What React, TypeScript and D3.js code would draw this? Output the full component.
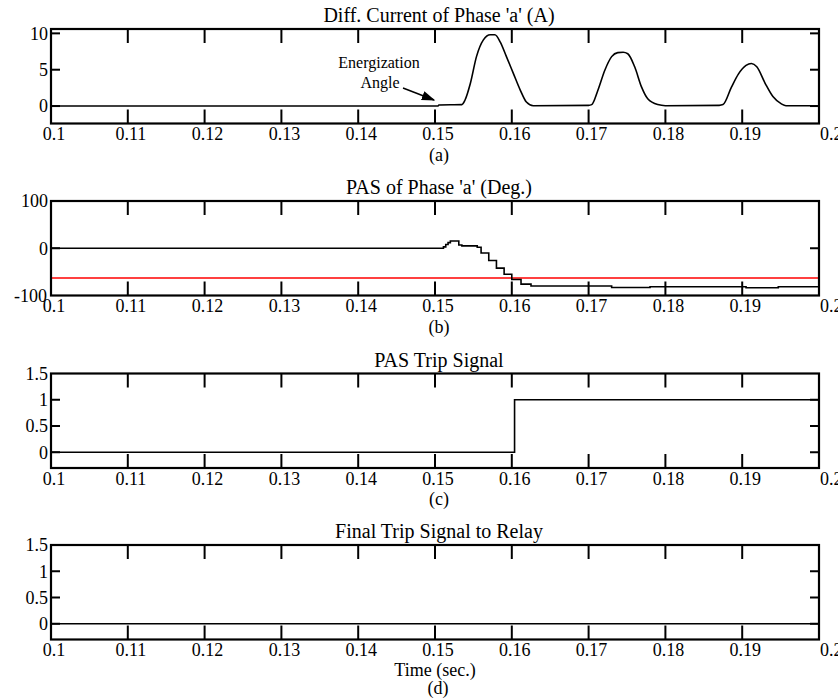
import * as d3 from 'd3';

// time axis
const timeTicks = [0.1, 0.11, 0.12, 0.13, 0.14, 0.15, 0.16, 0.17, 0.18, 0.19, 0.2];
const timeLabels = ['0.1', '0.11', '0.12', '0.13', '0.14', '0.15', '0.16', '0.17', '0.18', '0.19', '0.2'];

// (a) differential current, phase a (A)
const diffT = [0.1, 0.1504, 0.1505, 0.1535, 0.1539, 0.1546, 0.1554, 0.1563, 0.1572, 0.1578, 0.1585, 0.1593, 0.1602, 0.1611, 0.1619, 0.1628,
  0.17, 0.1704, 0.1712, 0.1721, 0.173, 0.1738, 0.1745, 0.1751, 0.176, 0.1769, 0.1777, 0.179, 0.18,
  0.187, 0.1875, 0.1886, 0.1895, 0.1905, 0.1912, 0.1919, 0.193, 0.194, 0.1951, 0.1957, 0.2];
const diffA = [0, 0, 0.15, 0.2, 0.8, 3.1, 6.8, 9.1, 9.8, 9.8, 8.8, 6.8, 4.5, 2.2, 0.55, 0.05,
  0.1, 0.2, 2.15, 4.9, 6.8, 7.35, 7.4, 7.2, 5.4, 2.6, 1.0, 0.2, 0.05,
  0.1, 0.2, 2.6, 4.4, 5.6, 5.85, 5.4, 3.1, 1.3, 0.3, 0.05, 0.05];

// (b) PAS of phase a (deg), stepped
const pasT = [0.1, 0.1511, 0.1514, 0.1517, 0.152, 0.1531, 0.1535, 0.1555, 0.156, 0.157, 0.158, 0.159, 0.16, 0.1612, 0.1625, 0.173, 0.178, 0.1905, 0.1947, 0.2];
const pasDeg = [0, 3, 8, 12, 15.5, 7, 5, 2, -10, -26, -42, -55, -66, -76, -80, -83, -81.5, -83.5, -81.5, -81.5];
const pasThreshold = -63;

// (c) PAS trip signal
const tripT = [0.1, 0.16036, 0.2];
const tripVal = [0, 1, 1];

// (d) final trip signal
const finalT = [0.1, 0.2];
const finalVal = [0, 0];

const FONT = '"Liberation Serif", "Times New Roman", serif';
const left = 51;
const right = 819;
const h = 94.5;

type Panel = {
  key: string;
  title: string;
  top: number;
  domain: [number, number];
  yTicks: number[];
  yLabels: string[];
  t: number[];
  v: number[];
  step: boolean;
  sub: string;
};

const panels: Panel[] = [
  { key: 'a', title: "Diff. Current of Phase 'a' (A)", top: 29, domain: [-2.4, 10.6], yTicks: [0, 5, 10], yLabels: ['0', '5', '10'], t: diffT, v: diffA, step: false, sub: '(a)' },
  { key: 'b', title: "PAS of Phase 'a' (Deg.)", top: 201, domain: [-100, 100], yTicks: [-100, 0, 100], yLabels: ['-100', '0', '100'], t: pasT, v: pasDeg, step: true, sub: '(b)' },
  { key: 'c', title: 'PAS Trip Signal', top: 373.5, domain: [-0.3, 1.5], yTicks: [0, 0.5, 1, 1.5], yLabels: ['0', '0.5', '1', '1.5'], t: tripT, v: tripVal, step: true, sub: '(c)' },
  { key: 'd', title: 'Final Trip Signal to Relay', top: 545, domain: [-0.3, 1.5], yTicks: [0, 0.5, 1, 1.5], yLabels: ['0', '0.5', '1', '1.5'], t: finalT, v: finalVal, step: true, sub: '(d)' },
];

const x = d3.scaleLinear().domain([0.1, 0.2]).range([left, right]);

function PanelView({ p }: { p: Panel }) {
  const bottom = p.top + h;
  const y = d3.scaleLinear().domain(p.domain).range([bottom, p.top]);
  const pts = p.t.map((t, i) => [t, p.v[i]] as [number, number]);
  const line = d3.line<[number, number]>()
    .x(d => x(d[0]))
    .y(d => y(d[1]))
    .curve(p.step ? d3.curveStepAfter : d3.curveMonotoneX);
  const inner = timeTicks.slice(1, -1);
  const yIn = p.yTicks.filter(v => v > p.domain[0] && v < p.domain[1]);
  return (
    <g>
      <text x={(left + right) / 2 + 4} y={p.top - 7} textAnchor="middle" fontSize={20}>{p.title}</text>
      {p.key === 'b' && (
        <line x1={left} x2={right} y1={y(pasThreshold)} y2={y(pasThreshold)} stroke="#ff0000" strokeWidth={1.5} />
      )}
      <path d={line(pts) ?? ''} fill="none" stroke="#000" strokeWidth={1.6} />
      {inner.map(t => (
        <g key={t}>
          <line x1={x(t)} x2={x(t)} y1={bottom} y2={bottom - 14} stroke="#000" strokeWidth={2} />
          <line x1={x(t)} x2={x(t)} y1={p.top} y2={p.top + 14} stroke="#000" strokeWidth={2} />
        </g>
      ))}
      {yIn.map(v => (
        <g key={v}>
          <line x1={left} x2={left + 9} y1={y(v)} y2={y(v)} stroke="#000" strokeWidth={2} />
          <line x1={right} x2={right - 9} y1={y(v)} y2={y(v)} stroke="#000" strokeWidth={2} />
        </g>
      ))}
      <rect x={left} y={p.top} width={right - left} height={h} fill="none" stroke="#000" strokeWidth={2.2} />
      {p.yTicks.map((v, i) => (
        <text key={v} x={v === -100 ? 47 : 48} y={y(v)} dy="0.35em" textAnchor="end" fontSize={18}>{p.yLabels[i]}</text>
      ))}
      {timeTicks.map((t, i) => (
        <text key={t} x={i === timeTicks.length - 1 ? x(t) + 1 : x(t) + 3} y={bottom + 16.5}
          textAnchor={i === timeTicks.length - 1 ? 'start' : 'middle'} fontSize={18}>{timeLabels[i]}</text>
      ))}
      {p.key === 'd' ? (
        <>
          <text x={435} y={bottom + 36} textAnchor="middle" fontSize={18}>Time (sec.)</text>
          <text x={438} y={bottom + 54} textAnchor="middle" fontSize={18}>{p.sub}</text>
        </>
      ) : (
        <text x={439} y={bottom + 37} textAnchor="middle" fontSize={18}>{p.sub}</text>
      )}
    </g>
  );
}

export default function App() {
  return (
    <svg width={838} height={700} style={{ position: 'absolute', left: 0, top: 0, background: '#fff' }} fontFamily={FONT}>
      <defs>
        <marker id="arr" viewBox="0 0 10 10" refX={9} refY={5} markerWidth={9} markerHeight={9} orient="auto">
          <path d="M0,1.5 L10,5 L0,8.5 Z" fill="#000" />
        </marker>
      </defs>
      {panels.map(p => <PanelView key={p.key} p={p} />)}
      <text x={379} y={68} textAnchor="middle" fontSize={16}>Energization</text>
      <text x={380} y={88} textAnchor="middle" fontSize={16}>Angle</text>
      <line x1={403} y1={88} x2={434} y2={100} stroke="#000" strokeWidth={1.5} markerEnd="url(#arr)" />
    </svg>
  );
}
